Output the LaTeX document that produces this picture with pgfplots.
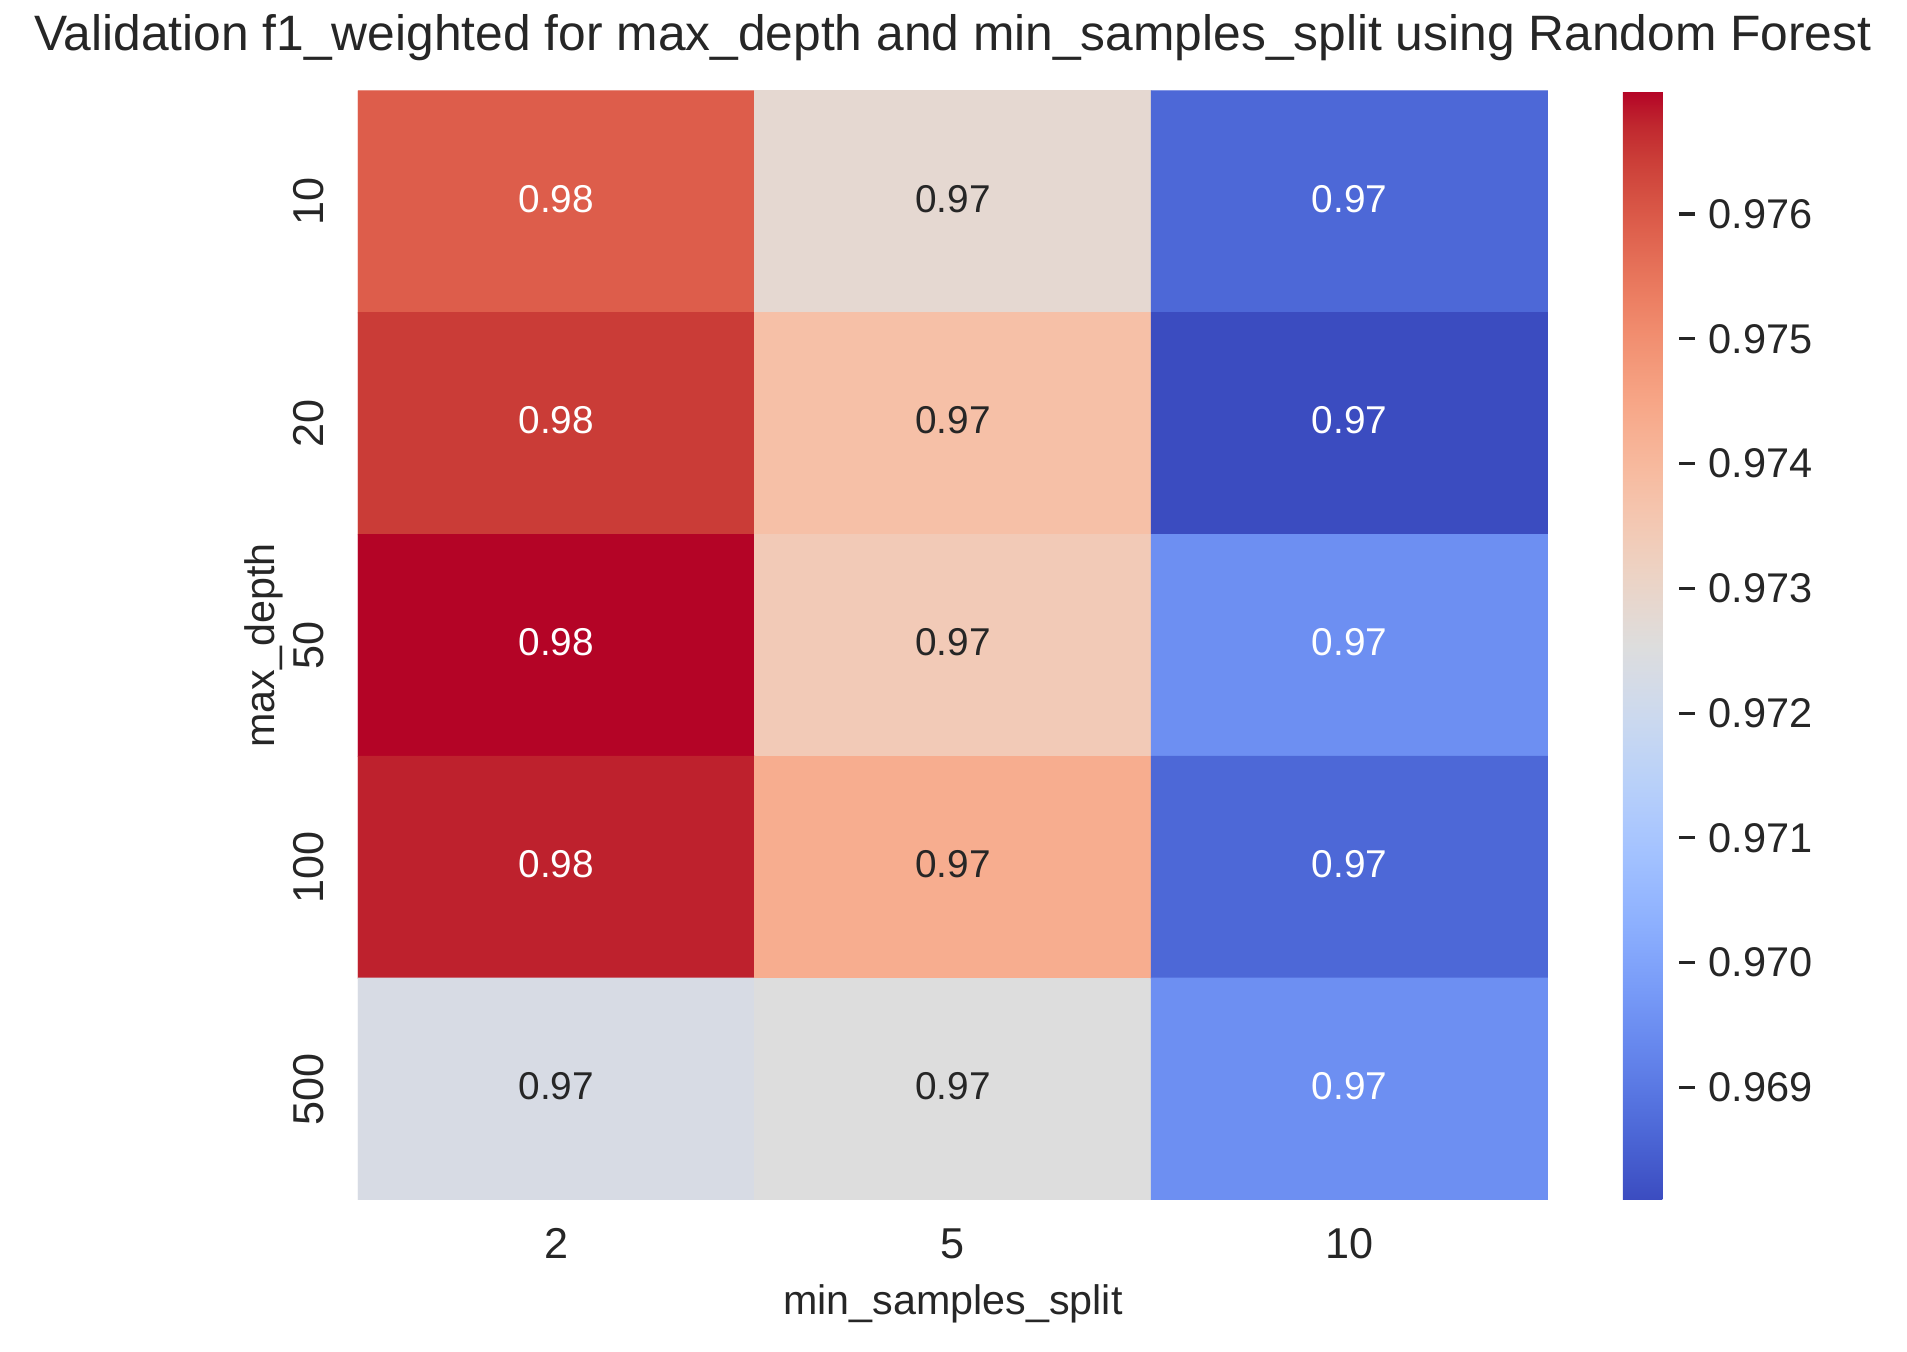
\documentclass[border=0pt]{standalone}
\usepackage{pgfplots}
\usepackage{pgfplotstable}
\pgfplotsset{compat=1.18}
\usepackage{fontspec}
\setmainfont{Liberation Sans}
\definecolor{tg}{RGB}{38,38,38}
\pgfplotsset{
  colormap={coolwarm}{
    rgb255=(59,76,192) rgb255=(68,90,204) rgb255=(77,104,215) rgb255=(87,117,225)
    rgb255=(98,130,234) rgb255=(108,142,241) rgb255=(119,154,247) rgb255=(130,165,251)
    rgb255=(141,176,254) rgb255=(152,185,255) rgb255=(163,194,255) rgb255=(174,201,253)
    rgb255=(184,208,249) rgb255=(194,213,244) rgb255=(204,217,238) rgb255=(213,219,230)
    rgb255=(221,221,221) rgb255=(229,216,209) rgb255=(236,211,197) rgb255=(241,204,185)
    rgb255=(245,196,173) rgb255=(247,187,160) rgb255=(247,177,148) rgb255=(247,166,135)
    rgb255=(244,154,123) rgb255=(241,141,111) rgb255=(236,127,99) rgb255=(229,112,88)
    rgb255=(222,96,77) rgb255=(213,80,66) rgb255=(203,62,56) rgb255=(192,40,47)
    rgb255=(180,4,38)
  }
}
\pgfplotstableread{
x y v
0 0 0.97592
1 0 0.97281
2 0 0.96865
0 1 0.97645
1 1 0.97379
2 1 0.96810
0 2 0.97699
1 2 0.97343
2 2 0.96952
0 3 0.97676
1 3 0.97432
2 3 0.96865
0 4 0.97232
1 4 0.97254
2 4 0.96952
}\heat
\pgfplotstableread{
x y v
0 0 0.97592
2 0 0.96865
0 1 0.97645
2 1 0.96810
0 2 0.97699
2 2 0.96952
0 3 0.97676
2 3 0.96865
2 4 0.96952
}\whitelab
\pgfplotstableread{
x y v
1 0 0.97281
1 1 0.97379
1 2 0.97343
1 3 0.97432
0 4 0.97232
1 4 0.97254
}\darklab
\begin{document}
\begin{tikzpicture}
\useasboundingbox (0,0) rectangle (689.09pt,488.55pt);
\begin{axis}[
  at={(129.36pt,54.93pt)}, anchor=south west,
  scale only axis, width=430.0pt, height=400.74pt,
  xmin=-0.5, xmax=2.5, ymin=-0.5, ymax=4.5, y dir=reverse,
  axis line style={draw=none},
  major tick length=0pt,
  xtick={0,1,2}, xticklabels={2,5,10},
  ytick={0,1,2,3,4}, yticklabels={10,20,50,100,500},
  tick label style={font=\fontsize{15.6}{18}\selectfont, text=tg},
  xticklabel style={anchor=north, inner sep=0pt},
  xticklabel shift=10.1pt,
  yticklabel style={rotate=90, anchor=base, inner sep=0pt},
  yticklabel shift=12.3pt,
  colormap name=coolwarm,
  point meta min=0.968097, point meta max=0.976986,
  title={Validation f1\_weighted for max\_depth and min\_samples\_split using Random Forest},
  title style={at={(axis description cs:0.5,1.0219)}, anchor=base, inner sep=0pt, font=\fontsize{17.97}{22}\selectfont, text=tg},
  xlabel={min\_samples\_split},
  xlabel style={at={(axis description cs:0.5,-0.1028)}, anchor=base, inner sep=0pt, font=\fontsize{14.9}{17}\selectfont, text=tg},
  ylabel={max\_depth},
  ylabel style={at={(axis description cs:-0.06975,0.5)}, anchor=base, inner sep=0pt, font=\fontsize{14.9}{17}\selectfont, text=tg},
  colorbar,
  colorbar shift/.style={xshift=27.10pt},
  colorbar style={
    at={(parent axis.north east)}, anchor=north west,
    width=20.24pt,
    axis line style={draw=none},
    ytick={0.969,0.970,0.971,0.972,0.973,0.974,0.975,0.976},
    ytick pos=right,
    tick align=outside,
    major tick length=5.78pt,
    tick style={draw=tg, line width=1.1pt},
    yticklabel shift=4.7pt,
    yticklabel style={font=\fontsize{15.0}{18}\selectfont, text=tg, anchor=west, inner sep=0pt,
      /pgf/number format/.cd, fixed, precision=3, fixed zerofill, assume math mode=true},
  },
]
\addplot[matrix plot*, mesh/cols=3, point meta=explicit] table[x=x,y=y,meta=v]{\heat};
\addplot[draw=none, mark=none, point meta=explicit,
  nodes near coords={\pgfmathprintnumber[fixed,fixed zerofill,precision=2,assume math mode=true]{\pgfplotspointmeta}},
  nodes near coords align=center,
  every node near coord/.append style={text=white, font=\fontsize{14}{17}\selectfont, inner sep=0pt, yshift=1.1pt}]
  table[x=x,y=y,meta=v]{\whitelab};
\addplot[draw=none, mark=none, point meta=explicit,
  nodes near coords={\pgfmathprintnumber[fixed,fixed zerofill,precision=2,assume math mode=true]{\pgfplotspointmeta}},
  nodes near coords align=center,
  every node near coord/.append style={text=tg, font=\fontsize{14}{17}\selectfont, inner sep=0pt, yshift=1.1pt}]
  table[x=x,y=y,meta=v]{\darklab};
\end{axis}
\end{tikzpicture}
\end{document}
